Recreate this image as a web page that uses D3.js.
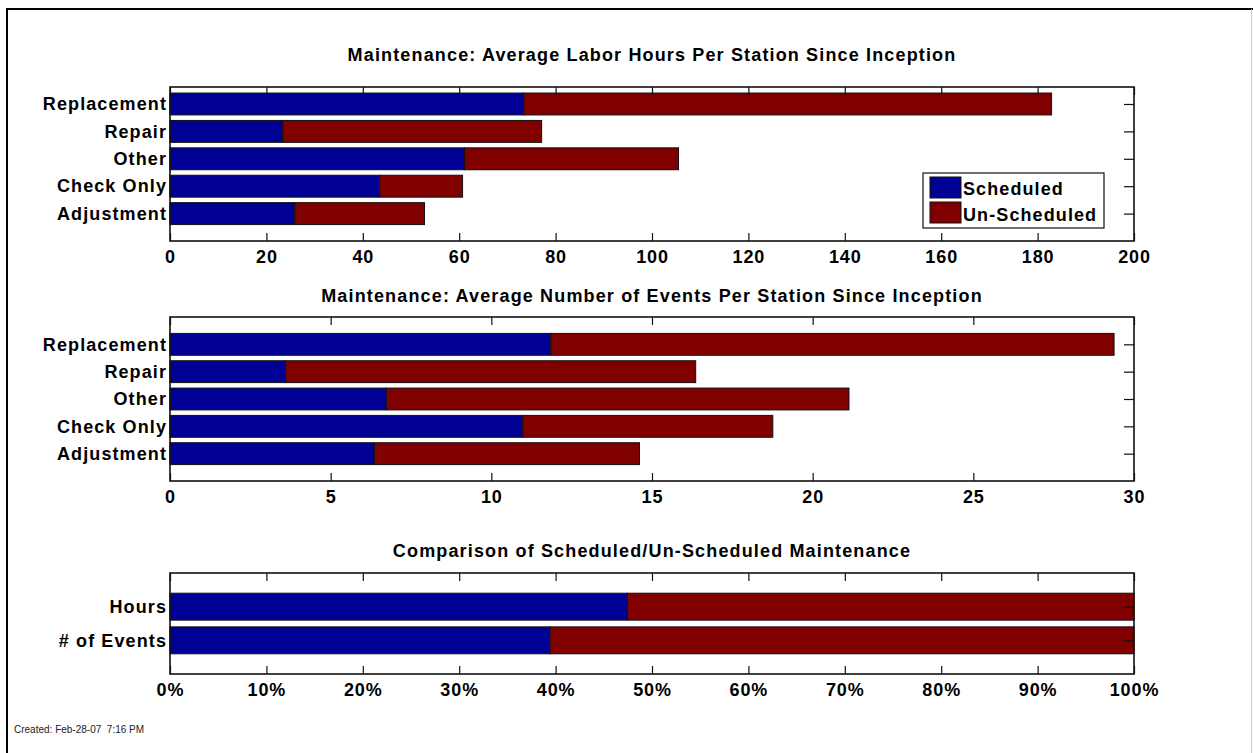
<!DOCTYPE html>
<html>
<head>
<meta charset="utf-8">
<script src="https://cdn.jsdelivr.net/npm/d3@7"></script>
<style>
  body { margin: 0; background: #fff; }
  svg { font-family: "Liberation Sans", Arial, sans-serif; }
  .tick text { font-weight: bold; font-size: 18px; letter-spacing: 0.9px; fill: #000; }
  .ylab .tick text { letter-spacing: 1.1px; }
  .title { font-weight: bold; font-size: 18px; letter-spacing: 1.15px; }
</style>
</head>
<body>
<div id="svg-container"></div>
<script>
// data (bottom to top, as in the chart)
const categories = ["Adjustment", "Check Only", "Other", "Repair", "Replacement"];
const hoursScheduled = [25.9, 43.5, 61.1, 23.4, 73.4];
const hoursUnscheduled = [26.9, 17.2, 44.4, 53.7, 109.5];
const eventsScheduled = [6.36, 10.98, 6.73, 3.6, 11.85];
const eventsUnscheduled = [8.25, 7.78, 14.4, 12.76, 17.53];
const compareLabels = ["# of Events", "Hours"];
const seriesNames = ["Scheduled", "Un-Scheduled"];
const hoursTicks = [0, 20, 40, 60, 80, 100, 120, 140, 160, 180, 200];
const eventsTicks = [0, 5, 10, 15, 20, 25, 30];
const pctTicks = [0, 10, 20, 30, 40, 50, 60, 70, 80, 90, 100];

const colors = ["#000094", "#800000"];
const width = 1253, height = 753;

const svg = d3.select("#svg-container").append("svg")
  .attr("width", width).attr("height", height);

// outer frame
svg.append("line").attr("x1", 7).attr("x2", 7).attr("y1", 8).attr("y2", height)
  .attr("stroke", "#000").attr("stroke-width", 2);
svg.append("line").attr("x1", 6).attr("x2", width).attr("y1", 9).attr("y2", 9)
  .attr("stroke", "#000").attr("stroke-width", 2);
svg.append("line").attr("x1", 1251.5).attr("x2", 1251.5).attr("y1", 9).attr("y2", height)
  .attr("stroke", "#ccc").attr("stroke-width", 1);

const left = 170, right = 1134;

function panel(opts) {
  const { top, bottom, yMax, labels, sched, unsched, xMax, ticks, fmt, title, titleY } = opts;
  const x = d3.scaleLinear().domain([0, xMax]).range([left, right]);
  const y = d3.scaleLinear().domain([0, yMax]).range([bottom, top]);
  const g = svg.append("g");

  const rows = labels.map((c, i) => ({ cat: c, pos: i + 1, s: sched[i], u: unsched[i] }));
  const stacked = d3.stack().keys(["s", "u"])(rows);
  const bh = y(0) - y(0.8);

  g.selectAll("g.series")
    .data(stacked)
    .join("g")
    .attr("fill", (d, i) => colors[i])
    .selectAll("rect")
    .data((d) => d)
    .join("rect")
    .attr("x", (d) => x(d[0]))
    .attr("width", (d) => x(d[1]) - x(d[0]))
    .attr("y", (d) => y(d.data.pos) - bh / 2)
    .attr("height", bh)
    .attr("stroke", "#111")
    .attr("stroke-width", 1);

  const yPos = rows.map((d) => d.pos);

  // bottom axis with labels, inward ticks
  g.append("g")
    .attr("transform", `translate(0,${bottom})`)
    .call(d3.axisBottom(x).tickValues(ticks).tickFormat(fmt).tickSizeInner(-8).tickSizeOuter(0).tickPadding(9))
    .call((a) => a.select(".domain").remove());
  // top ticks
  g.append("g")
    .attr("transform", `translate(0,${top})`)
    .call(d3.axisTop(x).tickValues(ticks).tickFormat("").tickSizeInner(-8).tickSizeOuter(0))
    .call((a) => a.select(".domain").remove());
  // left labels
  g.append("g")
    .attr("class", "ylab")
    .attr("transform", `translate(${left},0)`)
    .call(d3.axisLeft(y).tickValues(yPos).tickFormat((d, i) => labels[i]).tickSize(0).tickPadding(3))
    .call((a) => a.select(".domain").remove());
  // right ticks
  g.append("g")
    .attr("transform", `translate(${right},0)`)
    .call(d3.axisRight(y).tickValues(yPos).tickFormat("").tickSizeInner(-10).tickSizeOuter(0))
    .call((a) => a.select(".domain").remove());

  g.selectAll(".tick line").attr("stroke", "#111").attr("stroke-width", 1.2);

  // box
  g.append("rect")
    .attr("x", left).attr("y", top)
    .attr("width", right - left).attr("height", bottom - top)
    .attr("fill", "none").attr("stroke", "#111").attr("stroke-width", 1.6);

  g.append("text").attr("class", "title")
    .attr("x", (left + right) / 2).attr("y", titleY)
    .attr("text-anchor", "middle").text(title);
  return g;
}

panel({
  top: 87, bottom: 241, yMax: 5.62, labels: categories,
  sched: hoursScheduled, unsched: hoursUnscheduled,
  xMax: 200, ticks: hoursTicks, fmt: d3.format("d"),
  title: "Maintenance: Average Labor Hours Per Station Since Inception", titleY: 61
});

panel({
  top: 317, bottom: 481, yMax: 6, labels: categories,
  sched: eventsScheduled, unsched: eventsUnscheduled,
  xMax: 30, ticks: eventsTicks, fmt: d3.format("d"),
  title: "Maintenance: Average Number of Events Per Station Since Inception", titleY: 302
});

// percentages of scheduled / un-scheduled
const hs = d3.sum(hoursScheduled), hu = d3.sum(hoursUnscheduled);
const es = d3.sum(eventsScheduled), eu = d3.sum(eventsUnscheduled);
const pctScheduled = [100 * es / (es + eu), 100 * hs / (hs + hu)];
const pctUnscheduled = pctScheduled.map((p) => 100 - p);

panel({
  top: 573, bottom: 674, yMax: 3, labels: compareLabels,
  sched: pctScheduled, unsched: pctUnscheduled,
  xMax: 100, ticks: pctTicks, fmt: (d) => d + "%",
  title: "Comparison of Scheduled/Un-Scheduled Maintenance", titleY: 557
});

// legend
const lg = svg.append("g").attr("transform", "translate(923,173)");
lg.append("rect").attr("width", 181).attr("height", 55)
  .attr("fill", "#fff").attr("stroke", "#111").attr("stroke-width", 1.2);
seriesNames.forEach((name, i) => {
  lg.append("rect").attr("x", 7).attr("y", 4 + i * 25).attr("width", 31).attr("height", 21)
    .attr("fill", colors[i]).attr("stroke", "#111");
  lg.append("text").attr("x", 40).attr("y", 22 + i * 25.5)
    .attr("font-weight", "bold").attr("font-size", 18).attr("letter-spacing", 1.1).text(name);
});

svg.append("text").attr("x", 14).attr("y", 733)
  .attr("font-size", 10).attr("fill", "#222").text("Created: Feb-28-07  7:16 PM")
  .style("white-space", "pre");
</script>
</body>
</html>
